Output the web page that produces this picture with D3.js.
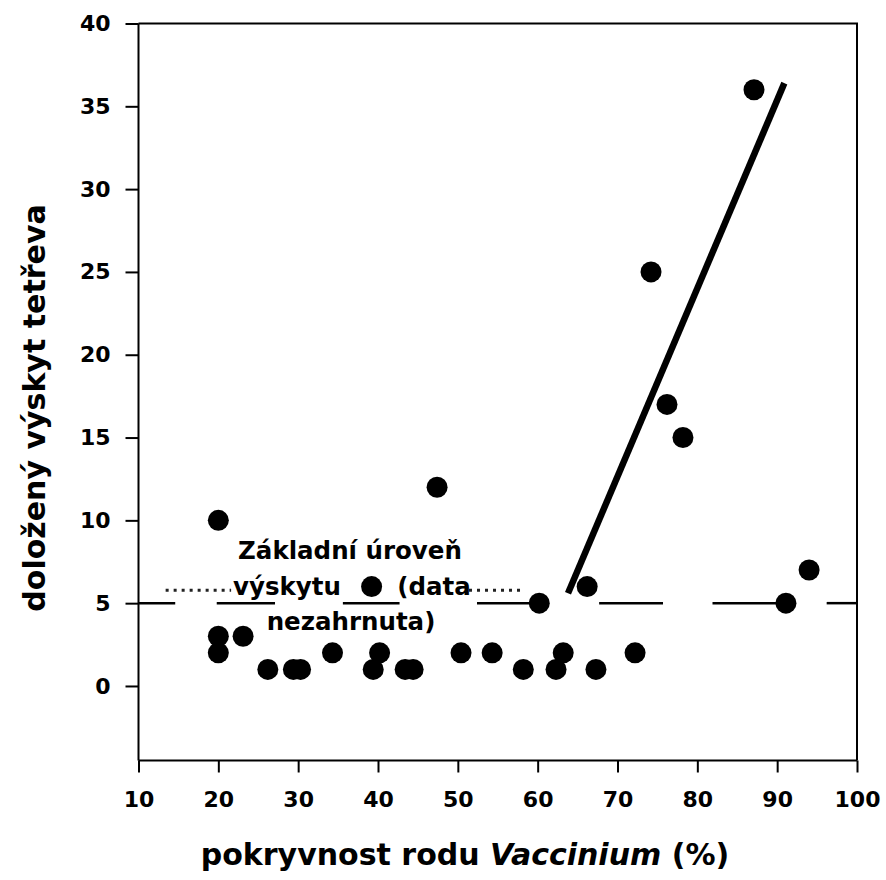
<!DOCTYPE html>
<html>
<head>
<meta charset="utf-8">
<script src="https://cdn.jsdelivr.net/npm/d3@7"></script>
<style>
  html, body { margin: 0; padding: 0; background: #fff; }
  svg { display: block; font-family: "DejaVu Sans", sans-serif; font-weight: bold; }
</style>
</head>
<body>
<svg id="chart" width="886" height="880"></svg>
<script>
// Vaccinium cover (%) per site and documented black grouse occurrence
const coverage   = [20, 20, 20, 23.1, 26.2, 29.4, 30.3, 34.3, 39.2, 39.4, 40.2, 43.4, 44.4, 47.4, 50.4, 54.3, 58.2, 60.2, 62.3, 63.2, 66.2, 67.3, 72.2, 74.2, 76.2, 78.2, 87.1, 91.1, 94.0];
const occurrence = [10, 3, 2, 3, 1, 1, 1, 2, 6, 1, 2, 1, 1, 12, 2, 2, 1, 5, 1, 2, 6, 1, 2, 25, 17, 15, 36, 5, 7];

// fitted line above the threshold
const fitX = [63.8, 90.9];
const fitY = [5.6, 36.4];

// baseline occurrence level and the pieces of its dashed line
const baselineLevel = 5;
const baselineDashes = [[10, 14.6], [19.8, 27.1], [35.6, 42.7], [52.4, 60.2], [67.7, 75.7], [81.9, 91.1], [96.2, 100]];
const faintDots = [[13.4, 21.6], [51.4, 58.1]];
const faintLevel = 5.78;

const xTicks = [10, 20, 30, 40, 50, 60, 70, 80, 90, 100];
const yTicks = [0, 5, 10, 15, 20, 25, 30, 35, 40];

const noteLines = ["Základní úroveň", "výskytu", "(data", "nezahrnuta)"];
const xTitle = ["pokryvnost rodu ", "Vaccinium", " (%)"];
const yTitle = "doložený výskyt tetřeva";

const svg = d3.select("#chart");
const plotLeft = 138.5, plotRight = 857, plotTop = 23.5, plotBottom = 760.5;

const x = d3.scaleLinear().domain([10, 100]).range([plotLeft, plotRight]);
const y = d3.scaleLinear().domain([-4.5, 40]).range([plotBottom, plotTop]);

// frame
svg.append("path")
  .attr("d", `M${plotLeft},${plotTop}H${plotRight}V${plotBottom}`)
  .attr("fill", "none").attr("stroke", "#000").attr("stroke-width", 2);

// axes
const xAxis = d3.axisBottom(x).tickValues(xTicks).tickSize(12).tickPadding(19).tickSizeOuter(0);
const gx = svg.append("g").attr("transform", `translate(0,${plotBottom})`).call(xAxis);
const yAxis = d3.axisLeft(y).tickValues(yTicks).tickSize(13).tickPadding(15).tickSizeOuter(0);
const gy = svg.append("g").attr("transform", `translate(${plotLeft},0)`).call(yAxis);
[gx, gy].forEach(g => {
  g.select(".domain").attr("stroke", "#000").attr("stroke-width", 2);
  g.selectAll(".tick line").attr("stroke", "#000").attr("stroke-width", 2);
  g.selectAll(".tick text")
    .attr("fill", "#000")
    .style("font-family", "'DejaVu Sans', sans-serif")
    .style("font-weight", "bold")
    .style("font-size", "22px");
});
gy.select(".domain").attr("d", `M0,${plotBottom}V${plotTop}`);
gx.select(".domain").attr("d", `M${plotLeft},0H${plotRight}`);

// baseline level (dashed)
svg.append("g").selectAll("line").data(baselineDashes).join("line")
  .attr("x1", d => x(d[0])).attr("x2", d => x(d[1]))
  .attr("y1", y(baselineLevel)).attr("y2", y(baselineLevel))
  .attr("stroke", "#000").attr("stroke-width", 2.5);

svg.append("g").selectAll("line").data(faintDots).join("line")
  .attr("x1", d => x(d[0])).attr("x2", d => x(d[1]))
  .attr("y1", y(faintLevel)).attr("y2", y(faintLevel))
  .attr("stroke", "#222").attr("stroke-width", 3)
  .attr("stroke-dasharray", "3,5");

// regression line
svg.append("line")
  .attr("x1", x(fitX[0])).attr("y1", y(fitY[0]))
  .attr("x2", x(fitX[1])).attr("y2", y(fitY[1]))
  .attr("stroke", "#000").attr("stroke-width", 6.5);

// points
svg.append("g").selectAll("circle").data(coverage).join("circle")
  .attr("cx", d => x(d))
  .attr("cy", (d, i) => y(occurrence[i]))
  .attr("r", 10.5)
  .attr("fill", "#000");

// annotation
const note = svg.append("text")
  .attr("text-anchor", "middle")
  .style("font-size", "24.5px")
  .attr("fill", "#000");
note.append("tspan").attr("x", 350).attr("y", 559).text(noteLines[0]);
note.append("tspan").attr("x", 287).attr("y", 595).text(noteLines[1]);
note.append("tspan").attr("x", 434).attr("y", 595).text(noteLines[2]);
note.append("tspan").attr("x", 351).attr("y", 630).text(noteLines[3]);

// axis titles
const xt = svg.append("text")
  .attr("x", 465).attr("y", 865)
  .attr("text-anchor", "middle")
  .style("font-size", "30px")
  .attr("fill", "#000");
xt.append("tspan").text(xTitle[0]);
xt.append("tspan").style("font-style", "italic").text(xTitle[1]);
xt.append("tspan").text(xTitle[2]);

svg.append("text")
  .attr("transform", "translate(45,408) rotate(-90)")
  .attr("text-anchor", "middle")
  .style("font-size", "30px")
  .attr("fill", "#000")
  .text(yTitle);
</script>
</body>
</html>
